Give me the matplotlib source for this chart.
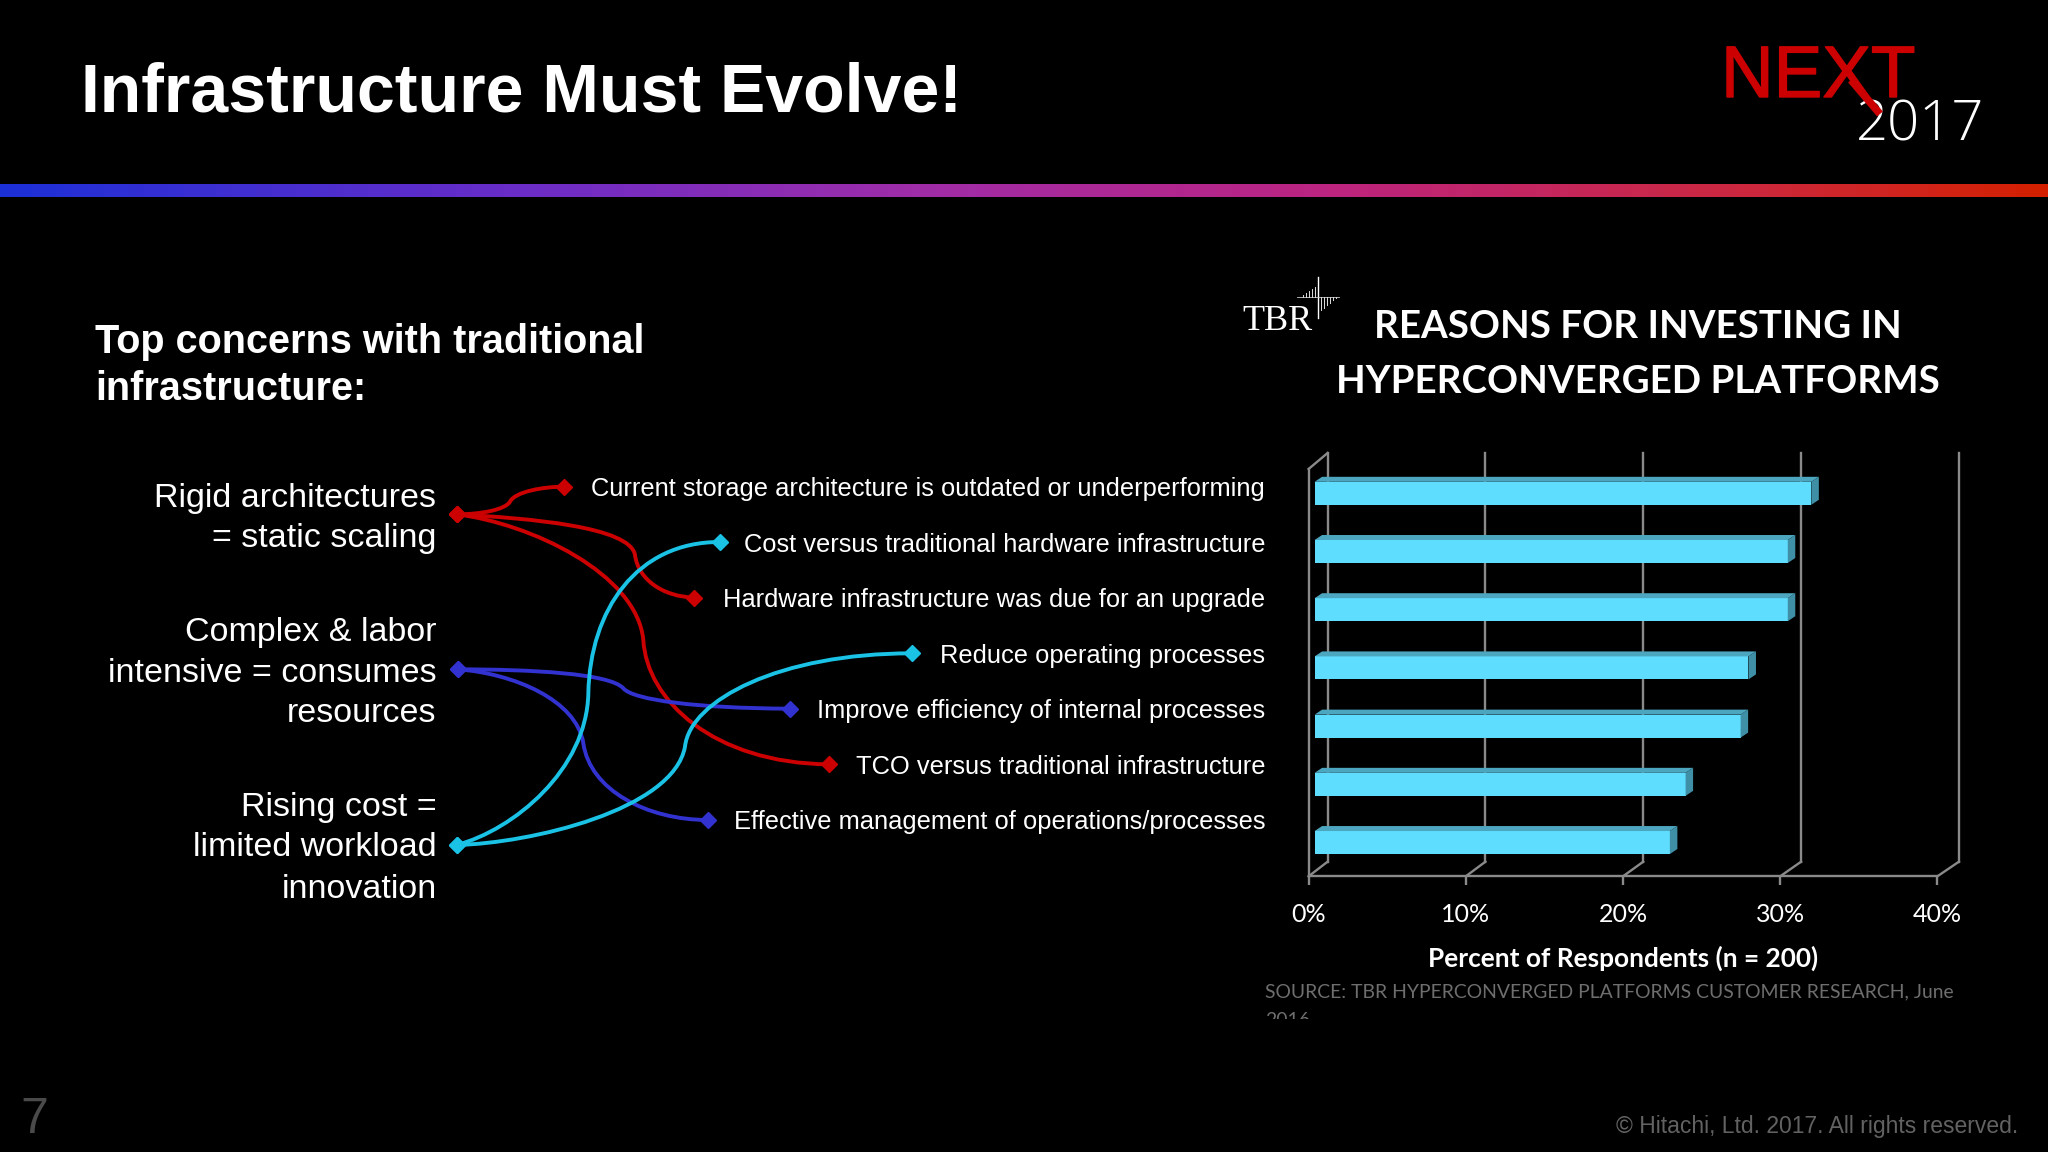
import numpy as np
import matplotlib
matplotlib.use("Agg")
import matplotlib.pyplot as plt
import matplotlib.patheffects as pe
from matplotlib.path import Path
from matplotlib.patches import PathPatch, Polygon, Rectangle
from matplotlib.colors import LinearSegmentedColormap

# ---------- data ----------
reasons = ["Current storage architecture is outdated or underperforming",
           "Cost versus traditional hardware infrastructure",
           "Hardware infrastructure was due for an upgrade",
           "Reduce operating processes",
           "Improve efficiency of internal processes",
           "TCO versus traditional infrastructure",
           "Effective management of operations/processes"]
percent = [31.6, 30.1, 30.1, 27.6, 27.1, 23.6, 22.6]
x_ticks = [0, 10, 20, 30, 40]
x_tick_labels = ["0%", "10%", "20%", "30%", "40%"]
concerns = [["Rigid architectures", "= static scaling"],
            ["Complex & labor", "intensive = consumes", "resources"],
            ["Rising cost =", "limited workload", "innovation"]]

RED, BLUE, CYAN = "#CC0000", "#3232D0", "#1AC2E6"
GRID = "#8a8a8a"
SANS = "Liberation Sans"
CAL = "Lato"

W, H = 2048, 1152
fig = plt.figure(figsize=(W/100, H/100), dpi=100, facecolor="black")
bg = fig.add_axes([0, 0, 1, 1])
bg.set_xlim(0, W); bg.set_ylim(H, 0); bg.axis("off")

# ---------- header ----------
bg.text(81, 94, "Infrastructure Must Evolve!", color="white", family=SANS, weight="bold",
        fontsize=49, ha="left", va="center")
bg.text(1721, 78.5, "NEXT", color=RED, family=SANS, fontsize=52.5, ha="left", va="center",
        path_effects=[pe.withStroke(linewidth=1.0, foreground=RED)])
bg.text(1984, 126, "2017", color="white", family="Open Sans", weight="light",
        fontsize=40.5, ha="right", va="center")
bg.plot([1851, 1880], [80, 114], color=RED, lw=5.5, solid_capstyle="butt", zorder=5)
cmap = LinearSegmentedColormap.from_list(
    "band", [(0, "#1C30D8"), (0.25, "#6A2CC8"), (0.45, "#A02CA8"), (0.65, "#BC2480"),
             (0.85, "#CC2840"), (1, "#D42000")])
bg.imshow(np.linspace(0, 1, 512)[None, :], cmap=cmap, extent=(0, W, 197, 184), aspect="auto", zorder=1)
bg.set_xlim(0, W); bg.set_ylim(H, 0)

# ---------- left column ----------
bg.text(95, 342.2, "Top concerns with traditional", color="white", family=SANS, weight="bold",
        fontsize=28.5, ha="left", va="center")
bg.text(95, 389.2, "infrastructure:", color="white", family=SANS, weight="bold",
        fontsize=28.5, ha="left", va="center")
concern_rows = [[498, 538.4], [632, 673, 713.6], [807.6, 848, 889]]
for lines, rows in zip(concerns, concern_rows):
    for line, yy in zip(lines, rows):
        bg.text(436.5, yy, line, color="white", family=SANS, fontsize=24.5, ha="right", va="center")
label_rows = [488.8, 544.6, 600, 655.8, 711, 766.8, 822]
for name, yy in zip(reasons, label_rows):
    bg.text(1265, yy, name, color="white", family=SANS, fontsize=18.4, ha="right", va="center")

# ---------- connectors, (x, y) ----------
def zc(pts):
    return [(430 + a/3, 460 + b/3) for a, b in pts]
links = [
    (RED,  [(80,163),(150,163),(225,150),(240,125),(255,95),(340,80),(403,80)]),
    (RED,  [(80,163),(300,175),(600,200),(615,285),(625,360),(700,410),(793,413)]),
    (RED,  [(80,163),(300,190),(620,340),(640,540),(650,720),(850,910),(1197,913)]),
    (BLUE, [(83,628),(300,628),(540,640),(580,685),(610,720),(800,745),(1080,746)]),
    (BLUE, [(83,628),(250,640),(440,720),(460,850),(480,990),(650,1080),(835,1080)]),
    (CYAN, [(80,1155),(250,1110),(470,930),(475,700),(480,450),(620,245),(870,246)]),
    (CYAN, [(80,1155),(300,1150),(730,1050),(765,860),(780,720),(1050,580),(1445,580)]),
]
codes = [Path.MOVETO] + [Path.CURVE4]*6
for col, pts in links:
    p = zc(pts)
    bg.add_patch(PathPatch(Path(p, codes), fill=False, edgecolor=col, lw=2.8, capstyle="round", zorder=3))
    bg.plot([p[0][0], p[-1][0]], [p[0][1], p[-1][1]], ls="none", marker="D", ms=8.5,
            mfc=col, mec=col, zorder=4)

# ---------- TBR logo ----------
bg.text(1242, 322, "TBR", color="white", family="Liberation Serif", fontsize=26, ha="left", va="center")
bg.plot([1318, 1318], [277, 318], color="white", lw=1.0)
bg.plot([1297, 1339], [297, 297], color="#cccccc", lw=0.6)
for i, xx in enumerate(range(1300, 1316, 3)):
    bg.plot([xx, xx], [297 - 2*i, 297], color="#dddddd", lw=0.7)
for i, xx in enumerate(range(1321, 1337, 3)):
    bg.plot([xx, xx], [297, 310 - 2.4*i], color="#dddddd", lw=0.7)

# ---------- chart ----------
x0, x1 = 1308.6, 1937.4
ybot, ytop = 876.3, 469.0
ax = fig.add_axes([x0/W, 1 - ybot/H, (x1 - x0)/W, (ybot - ytop)/H])
ax.set_facecolor("none")
ax.set_xlim(0, 40)
ax.set_ylim(6.58, -0.4175)
ux = (x1 - x0)/40; uy = 58.2

back_dx, back_dy = 19/ux, 14.6/uy
y_base = 6.58
y_top = -0.4175
LW = 1.7
for t in x_ticks:
    bx = t*1.004 + back_dx
    ax.plot([t, bx], [y_base, y_base - back_dy], color=GRID, lw=LW, clip_on=False, zorder=1)
    ax.plot([bx, bx], [y_base - back_dy, y_top - 16/uy], color=GRID, lw=LW, clip_on=False, zorder=1)
ax.plot([0, back_dx], [y_top, y_top - 16/uy], color=GRID, lw=LW, clip_on=False, zorder=1)

ypos = np.arange(len(percent))
left = 6/ux
bh = 23/uy
dx, dy = 7.5/ux, 5/uy
ax.barh(ypos, percent, left=left, height=bh, color="#5FDDFF", zorder=3)
for y, v in zip(ypos, percent):
    r = left + v; t = y - bh/2; b = y + bh/2
    ax.add_patch(Polygon([(left, t), (left + dx, t - dy), (r + dx, t - dy), (r, t)],
                         closed=True, fc="#4CA6BF", ec="none", zorder=3))
    ax.add_patch(Polygon([(r, t), (r + dx, t - dy), (r + dx, b - dy), (r, b)],
                         closed=True, fc="#3F8FA6", ec="none", zorder=3))

for s in ["top", "right"]:
    ax.spines[s].set_visible(False)
for s in ["left", "bottom"]:
    ax.spines[s].set_color(GRID); ax.spines[s].set_linewidth(LW)
ax.set_yticks([])
ax.set_xticks(x_ticks)
ax.set_xticklabels(x_tick_labels, family=CAL, color="white", fontsize=18)
ax.tick_params(axis="x", length=6.5, width=LW, color=GRID, pad=13)
ax.set_xlabel("Percent of Respondents (n = 200)", family=CAL, weight="bold", color="white",
              fontsize=18.95, labelpad=14)

bg.text(1638, 326.6, "REASONS FOR INVESTING IN", color="white", family=CAL, weight="bold",
        fontsize=27.7, ha="center", va="center")
bg.text(1638, 381.6, "HYPERCONVERGED PLATFORMS", color="white", family=CAL, weight="bold",
        fontsize=27.7, ha="center", va="center")

bg.text(1265, 992, "SOURCE: TBR HYPERCONVERGED PLATFORMS CUSTOMER RESEARCH, June", color="#6e6e6e",
        family=CAL, fontsize=13.95, ha="left", va="center")
tail = bg.text(1265, 1021, "2016", color="#6e6e6e", family=CAL, fontsize=13.95, ha="left", va="center")
tail.set_clip_on(True)
tail.set_clip_path(Rectangle((1200, 950), 800, 69, transform=bg.transData))

# ---------- footer ----------
bg.text(20, 1120, "7", color="#4a4a4a", family=SANS, fontsize=36, ha="left", va="center")
bg.text(2018, 1126.5, "\u00a9 Hitachi, Ltd. 2017. All rights reserved.", color="#626262", family=SANS,
        fontsize=16.5, ha="right", va="center")

fig.savefig("out.png", dpi=100, facecolor="black")
